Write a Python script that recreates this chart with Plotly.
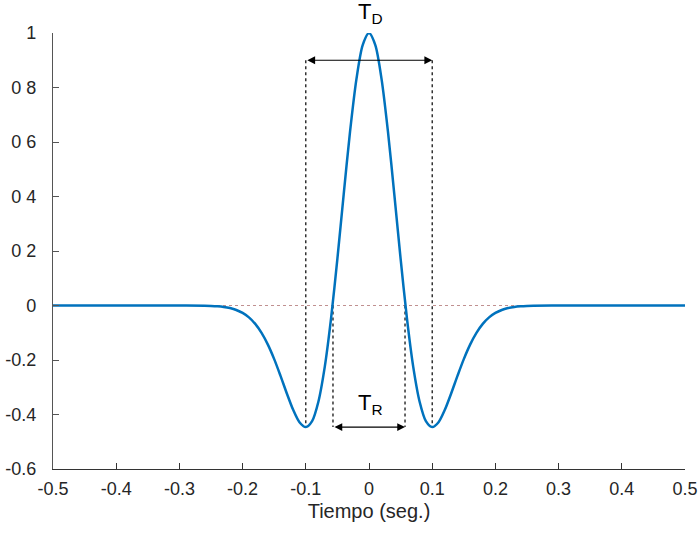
import plotly.graph_objects as go

# time samples (s) and amplitude
t = [-0.5, -0.3, -0.26, -0.25, -0.24, -0.23, -0.22, -0.21, -0.20, -0.19, -0.18, -0.17, -0.16, -0.15,
     -0.14, -0.13, -0.12, -0.11, -0.10, -0.09, -0.08, -0.07, -0.06, -0.05, -0.04, -0.03,
     -0.02, -0.01, 0.0, 0.01, 0.02, 0.03, 0.04, 0.05, 0.06, 0.07, 0.08, 0.09, 0.10, 0.11,
     0.12, 0.13, 0.14, 0.15, 0.16, 0.17, 0.18, 0.19, 0.20, 0.21, 0.22, 0.23, 0.24, 0.25, 0.26, 0.3, 0.5]
amp = [0.0, 0.0, -0.0007, -0.0015, -0.0029, -0.0053, -0.0095, -0.0164, -0.0273, -0.0437, -0.0676, -0.1005,
       -0.1436, -0.1967, -0.2582, -0.3227, -0.3828, -0.4282, -0.4463, -0.4243, -0.3523, -0.2254,
       -0.0466, 0.1718, 0.4090, 0.6378, 0.8288, 0.9555, 1.0, 0.9555, 0.8288, 0.6378, 0.4090,
       0.1718, -0.0466, -0.2254, -0.3523, -0.4243, -0.4463, -0.4282, -0.3828, -0.3227, -0.2582,
       -0.1967, -0.1436, -0.1005, -0.0676, -0.0437, -0.0273, -0.0164, -0.0095, -0.0053, -0.0029,
       -0.0015, -0.0007, 0.0, 0.0]

y_ticks = [-0.6, -0.4, -0.2, 0, 0.2, 0.4, 0.6, 0.8, 1]
y_tick_text = ["-0.6", "-0.4", "-0.2", "0", "0 2", "0 4", "0 6", "0 8", "1"]
x_ticks = [-0.5, -0.4, -0.3, -0.2, -0.1, 0, 0.1, 0.2, 0.3, 0.4, 0.5]
x_tick_text = ["-0.5", "-0.4", "-0.3", "-0.2", "-0.1", "0", "0.1", "0.2", "0.3", "0.4", "0.5"]

td_half = 0.1      # half of T_D
tr_half = 0.057    # half of T_R
td_level = 0.9
tr_level = -0.446
min_level = -0.446
zero_span = [-0.25, 0.25]

fig = go.Figure()

# dotted zero reference
fig.add_trace(go.Scatter(x=zero_span, y=[0, 0], mode="lines",
                         line=dict(color="#c09090", width=1, dash="dot"), hoverinfo="skip"))
# dotted verticals for T_D
for xv in (-td_half, td_half):
    fig.add_trace(go.Scatter(x=[xv, xv], y=[td_level, min_level], mode="lines",
                             line=dict(color="black", width=1.2, dash="dot"), hoverinfo="skip"))
# dotted verticals for T_R
for xv in (-tr_half, tr_half):
    fig.add_trace(go.Scatter(x=[xv, xv], y=[0, tr_level], mode="lines",
                             line=dict(color="black", width=1.2, dash="dot"), hoverinfo="skip"))

fig.add_trace(go.Scatter(x=t, y=amp, mode="lines", line=dict(color="#0072BD", width=2.5, shape="spline", smoothing=0.8)))

fig.add_annotation(x=td_half, y=td_level, ax=-td_half, ay=td_level, xref="x", yref="y", axref="x", ayref="y",
                   text="", showarrow=True, arrowhead=2, startarrowhead=2, arrowside="end+start",
                   arrowwidth=1.2, arrowsize=1.3, arrowcolor="black")
fig.add_annotation(x=tr_half, y=tr_level, ax=-tr_half, ay=tr_level, xref="x", yref="y", axref="x", ayref="y",
                   text="", showarrow=True, arrowhead=2, startarrowhead=2, arrowside="end+start",
                   arrowwidth=1.2, arrowsize=1.3, arrowcolor="black")
fig.add_annotation(x=0.003, y=(1.075 + 0.6) / 1.6, xref="x", yref="paper", yanchor="middle", xanchor="center",
                   text="T<sub>D</sub>", showarrow=False,
                   font=dict(size=22, color="black", family="Liberation Sans"))
fig.add_annotation(x=0.003, y=-0.36, xref="x", yref="y", yanchor="middle", xanchor="center",
                   text="T<sub>R</sub>", showarrow=False,
                   font=dict(size=22, color="black", family="Liberation Sans"))

fig.update_layout(
    width=698, height=533, showlegend=False,
    plot_bgcolor="white", paper_bgcolor="white",
    margin=dict(l=53, r=13, t=33, b=64),
    font=dict(family="Liberation Sans", size=18, color="#262626"),
    xaxis=dict(range=[-0.5, 0.5], tickvals=x_ticks, ticktext=x_tick_text, ticks="inside", ticklen=6,
               tickcolor="#333333", showline=True, linecolor="#333333", linewidth=1.2, showgrid=False,
               tickfont=dict(size=18, family="Liberation Sans", color="#262626"), automargin=False,
               ticklabelstandoff=3,
               zeroline=False, title=dict(text="Tiempo (seg.)", font=dict(size=20), standoff=6)),
    yaxis=dict(range=[-0.6, 1], tickvals=y_ticks, ticktext=y_tick_text, ticks="inside", ticklen=6,
               tickcolor="#555555", showline=True, linecolor="#555555", linewidth=1.2, showgrid=False,
               tickfont=dict(size=18, family="Liberation Sans", color="#262626"), automargin=False,
               zeroline=False, ticklabelstandoff=12),
)

fig.write_html("out.html")
